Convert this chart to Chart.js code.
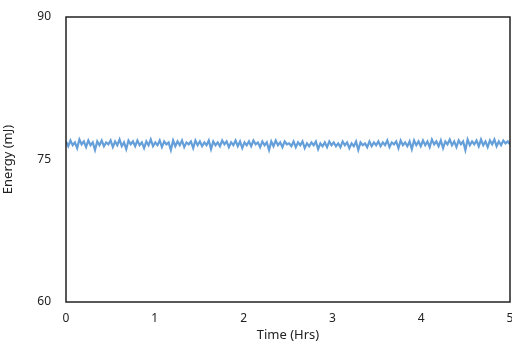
<!DOCTYPE html>
<html>
<head>
<meta charset="utf-8">
<script src="https://cdn.jsdelivr.net/npm/chart.js@4"></script>
<style>
  html, body { margin: 0; padding: 0; background: #fff; }
  #wrap { width: 512px; height: 345px; }
</style>
</head>
<body>
<div id="wrap"><canvas id="energyChart" width="512" height="345"></canvas></div>
<script>
// energy readings (mJ), sampled evenly over 0-5 hrs
const energy = [
  76.9,76.4,77.0,76.5,76.8,76.2,77.1,76.6,76.9,76.3,77.0,76.5,76.8,76.0,76.9,76.5,77.0,76.4,76.8,76.6,
  77.0,76.3,76.9,76.5,77.1,76.4,76.8,76.1,77.0,76.6,76.9,76.4,77.0,76.5,76.8,76.2,76.9,76.5,77.1,76.4,
  76.8,76.5,77.0,76.3,76.9,76.6,76.8,76.0,77.0,76.4,76.9,76.5,77.0,76.3,76.8,76.6,76.9,76.2,77.0,76.5,
  76.9,76.4,76.8,76.5,77.0,76.1,76.9,76.5,76.8,76.4,77.0,76.6,76.9,76.3,76.8,76.5,77.0,76.4,76.9,76.2,
  76.8,76.5,76.9,76.4,77.0,76.6,76.8,76.3,76.9,76.5,76.8,76.0,76.9,76.4,77.0,76.5,76.8,76.3,76.9,76.6,
  76.7,76.4,76.9,76.3,76.8,76.5,76.9,76.2,76.7,76.4,76.8,76.5,76.9,76.1,76.7,76.4,76.8,76.3,76.9,76.5,
  76.8,76.4,76.7,76.3,76.9,76.5,76.8,76.2,76.7,76.4,76.9,76.0,76.8,76.5,76.7,76.3,76.9,76.4,76.8,76.5,
  76.9,76.4,76.8,76.5,77.0,76.3,76.8,76.6,76.9,76.2,77.0,76.5,76.8,76.4,76.9,76.1,77.0,76.5,76.9,76.4,
  77.0,76.5,76.9,76.3,77.1,76.6,76.9,76.4,77.0,76.2,76.9,76.6,77.1,76.5,76.9,76.3,77.0,76.6,76.9,76.0,
  77.1,76.5,76.9,76.6,77.0,76.4,77.1,76.5,76.9,76.3,77.0,76.6,77.1,76.4,76.9,76.5,77.0,76.7,76.9,76.6
];
const timeRange = [0, 5];
const energyRange = [60, 90];
const yTicks = [60, 75, 90];

const hrsPerSample = (timeRange[1] - timeRange[0]) / (energy.length - 1);
const points = energy.map((e, i) => ({ x: timeRange[0] + i * hrsPerSample, y: e }));

// box around the plot area
const frame = {
  id: 'frame',
  afterDatasetsDraw(chart) {
    const { ctx, chartArea: a } = chart;
    ctx.save();
    ctx.strokeStyle = '#222';
    ctx.lineWidth = 1.5;
    ctx.strokeRect(a.left, a.top, a.right - a.left, a.bottom - a.top);
    ctx.restore();
  }
};

Chart.defaults.font.family = '"Noto Sans", "DejaVu Sans", sans-serif';
Chart.defaults.font.size = 12;
Chart.defaults.color = '#222';

new Chart(document.getElementById('energyChart').getContext('2d'), {
  type: 'line',
  data: {
    datasets: [{
      data: points,
      borderColor: 'rgba(74,142,210,0.85)',
      borderWidth: 2.2,
      pointRadius: 0,
      tension: 0,
      fill: false
    }]
  },
  options: {
    responsive: false,
    animation: false,
    layout: { padding: { top: 17, right: 2, left: 0, bottom: 0 } },
    plugins: { legend: { display: false }, tooltip: { enabled: false } },
    scales: {
      x: {
        type: 'linear',
        min: timeRange[0],
        max: timeRange[1],
        grid: { display: false, drawTicks: false },
        border: { display: false },
        ticks: { stepSize: 1, padding: 9, maxRotation: 0 },
        title: { display: true, text: 'Time (Hrs)', font: { size: 13 }, padding: { top: -2, bottom: 2 } },
        afterFit: s => { s.height = 43; s.paddingLeft = 0; s.paddingRight = 0; }
      },
      y: {
        min: energyRange[0],
        max: energyRange[1],
        grid: { display: false, drawTicks: false },
        border: { display: false },
        afterBuildTicks: s => { s.ticks = yTicks.map(v => ({ value: v })); },
        ticks: { padding: 15 },
        title: { display: true, text: 'Energy (mJ)', font: { size: 13 }, padding: { top: 0, bottom: 0 } },
        afterFit: s => { s.width = 66; s.paddingTop = 0; s.paddingBottom = 0; }
      }
    }
  },
  plugins: [frame]
});
</script>
</body>
</html>
